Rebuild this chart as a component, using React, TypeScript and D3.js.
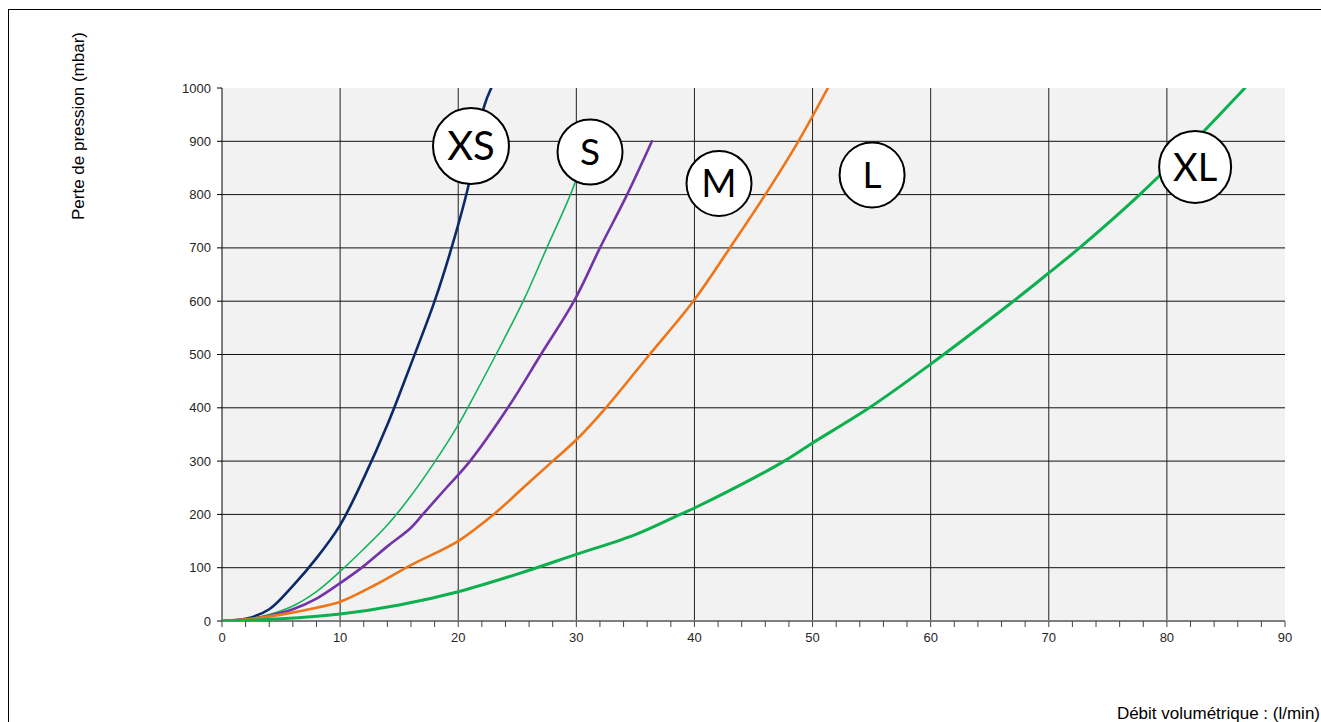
import React from "react";
import * as d3 from "d3";

type Pt = [number, number];

// Débit (l/min), perte de pression (mbar)
const seriesXS: Pt[] = [
  [0, 0], [2, 4], [4, 22], [6, 66], [8, 118], [10, 180], [12, 268],
  [14, 368], [16, 482], [18, 600], [19.5, 705], [20.86, 816], [22.2, 966],
  [22.8, 1000],
];
const seriesS: Pt[] = [
  [0, 0], [2, 3], [4, 12], [6, 28], [8, 55], [10, 93], [12, 135], [14, 180],
  [16, 235], [18, 298], [20, 368], [20.8, 400], [23.2, 500], [25.5, 600],
  [27.5, 700], [29.5, 800], [30.5, 860],
];
const seriesM: Pt[] = [
  [0, 0], [2, 3], [4, 10], [6, 22], [8, 42], [10, 71], [12, 103], [14, 140],
  [16, 175], [17, 200], [19, 250], [21, 300], [24.2, 400], [27, 500],
  [29.8, 600], [32, 700], [34.3, 800], [36.4, 900],
];
const seriesL: Pt[] = [
  [0, 0], [2, 3], [5, 12], [8, 25], [10, 36], [13, 68], [16, 105], [20, 150],
  [23, 200], [25.5, 250], [28, 300], [30, 340], [32.5, 400], [36.2, 500],
  [39.9, 600], [43, 700], [46, 800], [48.8, 900], [51.3, 1000],
];
const seriesXL: Pt[] = [
  [0, 0], [5, 4], [10, 13], [15, 30], [20, 55], [25, 88], [30, 125], [35, 162],
  [38.8, 200], [40, 212], [45, 268], [47.6, 300], [50, 334], [54.8, 400],
  [60, 482], [67, 600], [70, 653], [72.6, 700], [77.7, 800], [82.3, 900],
  [86.6, 1000],
];

const xTicks = [0, 10, 20, 30, 40, 50, 60, 70, 80, 90];
const xMinorTicks = d3.range(0, 91, 2);
const yTicks = [0, 100, 200, 300, 400, 500, 600, 700, 800, 900, 1000];

// size labels (name, anchor flow, anchor pressure)
const labelNames = ["XS", "S", "M", "L", "XL"];
const labelX = [21.08, 31.16, 42.08, 55.04, 82.39];
const labelY = [891, 880, 821, 837, 852];

const xTitle = "Débit volumétrique : (l/min)";
const yTitle = "Perte de pression (mbar)";

const W = 1321;
const H = 722;
const left = 222;
const right = 1285;
const top = 88;
const bottom = 621;

const labelRadius = [38, 32.5, 32.5, 32.5, 36];
const labelFont = [40, 37, 38, 37, 38];

export default function App() {
  const x = d3.scaleLinear().domain([0, 90]).range([left, right]);
  const y = d3.scaleLinear().domain([0, 1000]).range([bottom, top]);
  const line = d3
    .line<Pt>()
    .x((d) => x(d[0]))
    .y((d) => y(d[1]))
    .curve(d3.curveCatmullRom.alpha(0.5));

  const curves = [
    { data: seriesXS, color: "#0b2a6a", w: 2.6 },
    { data: seriesS, color: "#16b35a", w: 1.6 },
    { data: seriesM, color: "#7234a8", w: 2.6 },
    { data: seriesL, color: "#ee7518", w: 2.6 },
    { data: seriesXL, color: "#0db04f", w: 3 },
  ];

  const tickFont = "'Liberation Sans', Arial, sans-serif";

  return (
    <svg
      width={W}
      height={H}
      style={{ position: "absolute", left: 0, top: 0, background: "#fff" }}
    >
      <defs>
        <clipPath id="plot">
          <rect x={left} y={top} width={right - left} height={bottom - top} />
        </clipPath>
      </defs>
      {/* outer frame */}
      <line x1={8} y1={9.5} x2={W} y2={9.5} stroke="#000" strokeWidth={1} />
      <line x1={8.5} y1={9} x2={8.5} y2={H} stroke="#000" strokeWidth={1} />

      {/* plot background */}
      <rect x={left} y={top} width={right - left} height={bottom - top} fill="#f2f2f2" />

      {/* grid */}
      {yTicks
        .filter((t) => t > 0 && t < 1000)
        .map((t) => (
          <line key={"gy" + t} x1={left} x2={right} y1={y(t)} y2={y(t)} stroke="#111" strokeWidth={1} />
        ))}
      {xTicks
        .filter((t) => t > 0 && t < 90)
        .map((t) => (
          <line key={"gx" + t} x1={x(t)} x2={x(t)} y1={top} y2={bottom} stroke="#222" strokeWidth={1} />
        ))}

      {/* y axis */}
      <line x1={left} x2={left} y1={top} y2={bottom} stroke="#000" strokeWidth={1} />
      {yTicks.map((t) => (
        <g key={"yt" + t}>
          <line x1={left - 5} x2={left} y1={y(t)} y2={y(t)} stroke="#000" strokeWidth={1} />
          <text
            x={left - 11}
            y={y(t)}
            dy="0.35em"
            textAnchor="end"
            fontFamily={tickFont}
            fontSize={13}
            fill="#262626"
          >
            {t}
          </text>
        </g>
      ))}

      {/* x axis */}
      <line x1={left} x2={right} y1={bottom} y2={bottom} stroke="#7f7f7f" strokeWidth={2} />
      {xMinorTicks.map((t) => (
        <line key={"xm" + t} x1={x(t)} x2={x(t)} y1={bottom} y2={bottom + 6} stroke="#444" strokeWidth={1} />
      ))}
      {xTicks.map((t) => (
        <text
          key={"xt" + t}
          x={x(t)}
          y={bottom + 21}
          textAnchor="middle"
          fontFamily={tickFont}
          fontSize={13}
          fill="#262626"
        >
          {t}
        </text>
      ))}

      {/* curves */}
      <g clipPath="url(#plot)">
        {curves.map((c, i) => (
          <path
            key={"c" + i}
            d={line(c.data) || ""}
            fill="none"
            stroke={c.color}
            strokeWidth={c.w}
            strokeLinejoin="round"
            strokeLinecap="round"
          />
        ))}
      </g>

      {/* size labels */}
      {labelNames.map((n, i) => (
        <g key={"lab" + n}>
          <circle
            cx={x(labelX[i])}
            cy={y(labelY[i])}
            r={labelRadius[i]}
            fill="#fff"
            stroke="#000"
            strokeWidth={2}
          />
          <text
            x={x(labelX[i])}
            y={y(labelY[i])}
            dy="0.36em"
            textAnchor="middle"
            fontFamily="Lato, 'Open Sans', sans-serif"
            fontSize={labelFont[i]}
            fill="#000"
          >
            {n}
          </text>
        </g>
      ))}

      {/* axis titles */}
      <text
        transform={`translate(84, 126) rotate(-90)`}
        textAnchor="middle"
        fontFamily={tickFont}
        fontSize={17}
        fill="#000"
      >
        {yTitle}
      </text>
      <text
        x={1320}
        y={719}
        textAnchor="end"
        fontFamily={tickFont}
        fontSize={17}
        fill="#000"
      >
        {xTitle}
      </text>
    </svg>
  );
}
